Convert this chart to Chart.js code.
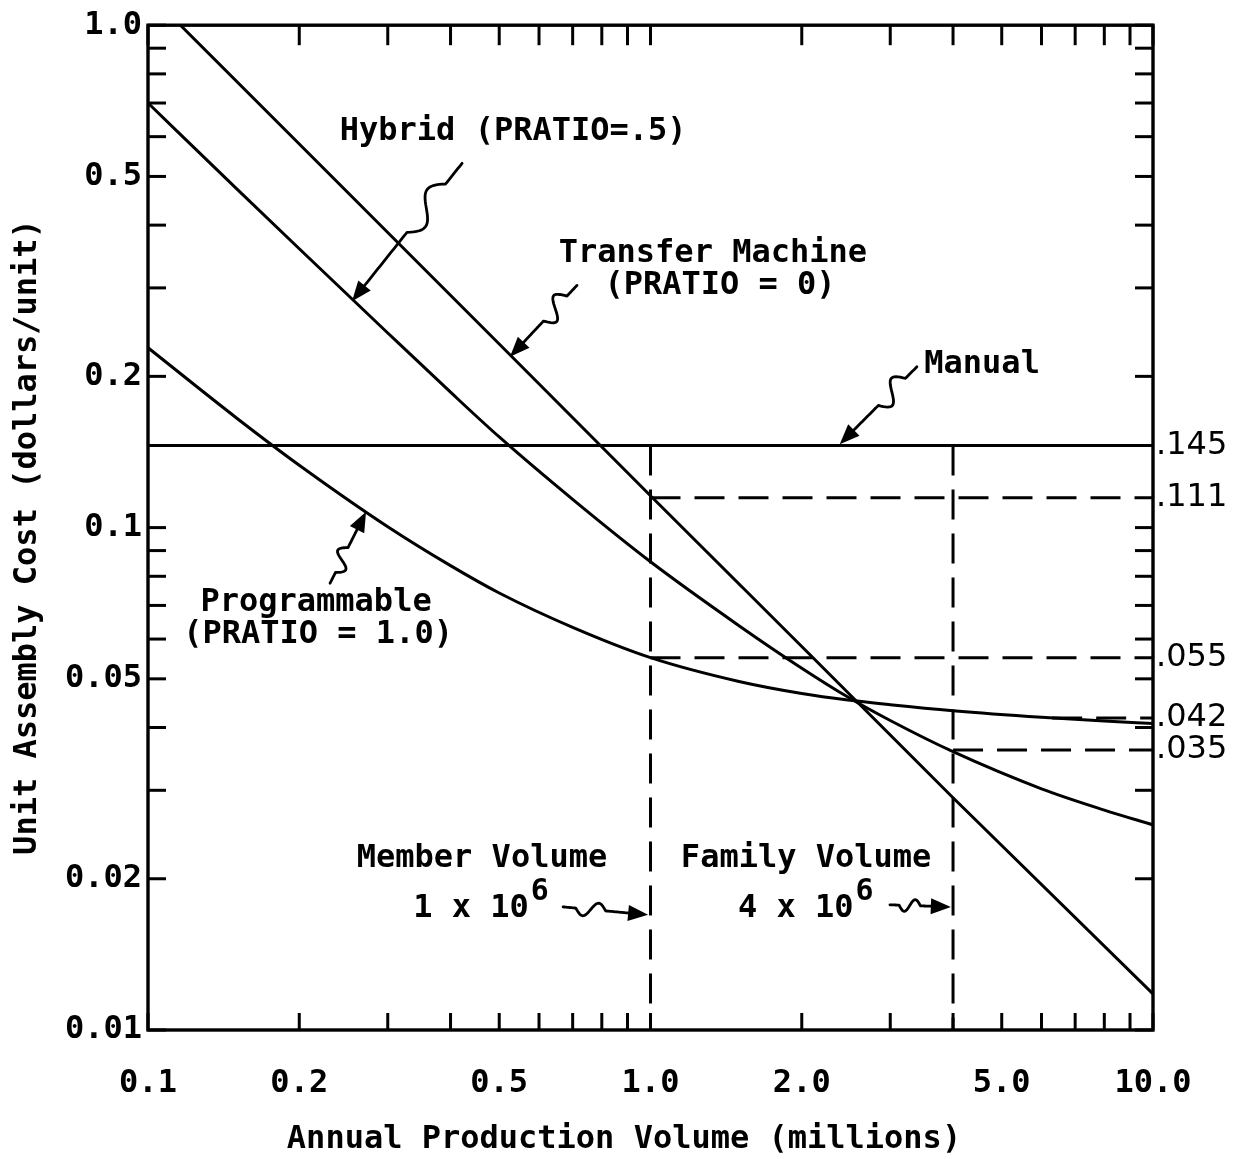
<!DOCTYPE html>
<html><head><meta charset="utf-8">
<script src="https://cdn.jsdelivr.net/npm/chart.js@4.4.0/dist/chart.umd.min.js"></script>
<style>html,body{margin:0;padding:0;background:#fff;}canvas{display:block;}</style>
</head><body>
<canvas id="c" width="1243" height="1159"></canvas>
<script>
// ---------- data ----------
const xTickValues = [0.1,0.2,0.3,0.4,0.5,0.6,0.7,0.8,0.9,1,2,3,4,5,6,7,8,9,10];
const xLabelValues = [0.1,0.2,0.5,1,2,5,10];
const xLabelTexts = ['0.1','0.2','0.5','1.0','2.0','5.0','10.0'];
const yTickValues = [0.01,0.02,0.03,0.04,0.05,0.06,0.07,0.08,0.09,0.1,0.2,0.3,0.4,0.5,0.6,0.7,0.8,0.9,1];
const yLabelValues = [1,0.5,0.2,0.1,0.05,0.02,0.01];
const yLabelTexts = ['1.0','0.5','0.2','0.1','0.05','0.02','0.01'];

const transferX = [0.116, 0.2, 0.5, 1.0, 2.0, 4.0, 10];
const transferY = [1.0, 0.58, 0.232, 0.1157, 0.058, 0.029, 0.0118];

const hybridX = [0.1, 0.15, 0.2, 0.3, 0.4, 0.5, 0.7, 1.0, 1.5, 2.0, 2.47, 3.0, 4.0, 6.0, 8.0, 10];
const hybridY = [0.70, 0.473, 0.359, 0.244, 0.186, 0.1515, 0.1138, 0.0855, 0.0638, 0.0525, 0.046, 0.0413, 0.0358, 0.0302, 0.0274, 0.0256];

const progX = [0.1, 0.15, 0.2, 0.3, 0.4, 0.5, 0.7, 1.0, 1.5, 2.0, 2.47, 3.0, 4.0, 6.0, 8.0, 10];
const progY = [0.228, 0.1653, 0.1331, 0.1004, 0.0840, 0.0741, 0.0633, 0.0551, 0.0494, 0.04675, 0.04537, 0.04442, 0.04322, 0.04193, 0.0412, 0.04075];

const manualX = [0.1, 10];
const manualY = [0.1457, 0.1457];

const memberVolume = 1;      // millions
const familyVolume = 4;      // millions
const refLineLevels = [0.1457, 0.1146, 0.0551, 0.0418, 0.0361];
const refLabels = ['.145', '.111', '.055', '.042', '.035'];
const refStartX = [null, 1, 1, 6.3, 4];

// ---------- helpers ----------
const pts = (xs, ys) => xs.map((v, i) => ({x: v, y: ys[i]}));
const FONT = "'DejaVu Sans Mono', monospace";
const solid = (label, data, smooth) => ({
  label, data, showLine: true, borderColor: '#000', borderWidth: 3,
  pointRadius: 0, fill: false,
  cubicInterpolationMode: smooth ? 'monotone' : 'default', tension: 0
});
const dashed = (label, data) => ({
  label, data, showLine: true, borderColor: '#000', borderWidth: 3,
  borderDash: [30, 14], pointRadius: 0, fill: false, tension: 0
});

const datasets = [
  solid('Transfer Machine', pts(transferX, transferY), false),
  solid('Hybrid', pts(hybridX, hybridY), true),
  solid('Programmable', pts(progX, progY), true),
  solid('Manual', pts(manualX, manualY), false),
  dashed('Member volume', [{x: memberVolume, y: refLineLevels[0]}, {x: memberVolume, y: 0.01}]),
  dashed('Family volume', [{x: familyVolume, y: refLineLevels[0]}, {x: familyVolume, y: 0.01}])
];
for (let i = 1; i < refLineLevels.length; i++) {
  datasets.push(dashed(refLabels[i], [{x: refStartX[i], y: refLineLevels[i]}, {x: 10, y: refLineLevels[i]}]));
}

// annotation texts (data coordinates)
const notes = [
  {t: 'Hybrid (PRATIO=.5)', x: 0.533, y: 0.614},
  {t: 'Transfer Machine', x: 1.331, y: 0.351},
  {t: '(PRATIO = 0)', x: 1.375, y: 0.3035},
  {t: 'Manual', x: 4.57, y: 0.211},
  {t: 'Programmable', x: 0.216, y: 0.0708},
  {t: '(PRATIO = 1.0)', x: 0.218, y: 0.0612},
  {t: 'Member Volume', x: 0.462, y: 0.0219},
  {t: 'Family Volume', x: 2.04, y: 0.0219}
];
const powerNotes = [
  {base: '1 x 10', exp: '6', x: 0.337, y: 0.0174},
  {base: '4 x 10', exp: '6', x: 1.493, y: 0.0174}
];
const leaders = [
  {from: [0.4217, 0.531], to: [0.2547, 0.2822], amp: 11},
  {from: [0.714, 0.3035], to: [0.5253, 0.2188], amp: 10},
  {from: [3.39, 0.209], to: [2.38, 0.1466], amp: 10},
  {from: [0.2303, 0.0775], to: [0.2716, 0.1075], amp: 8},
  {from: [0.670, 0.01758], to: [0.989, 0.01695], amp: 7},
  {from: [2.996, 0.01775], to: [3.96, 0.01758], amp: 6}
];

function line(ctx, x1, y1, x2, y2) { ctx.beginPath(); ctx.moveTo(x1, y1); ctx.lineTo(x2, y2); ctx.stroke(); }

function squiggle(ctx, p0, p1, amp) {
  const dx = p1[0] - p0[0], dy = p1[1] - p0[1];
  const L = Math.hypot(dx, dy), ux = dx / L, uy = dy / L, nx = -uy, ny = ux;
  ctx.beginPath();
  const N = 80;
  for (let i = 0; i <= N; i++) {
    const t = i / N;
    let off = 0;
    if (t > 0.15 && t < 0.5) off = amp * Math.sin(2 * Math.PI * (t - 0.15) / 0.35);
    const tt = Math.min(t, 1 - 14 / L);
    const px = p0[0] + dx * tt + nx * off, py = p0[1] + dy * tt + ny * off;
    if (i === 0) ctx.moveTo(px, py); else ctx.lineTo(px, py);
  }
  ctx.stroke();
  const hl = 20, hw = 8;
  const bx = p1[0] - ux * hl, by = p1[1] - uy * hl;
  ctx.beginPath();
  ctx.moveTo(p1[0], p1[1]);
  ctx.lineTo(bx + nx * hw, by + ny * hw);
  ctx.lineTo(bx - nx * hw, by - ny * hw);
  ctx.closePath();
  ctx.fill();
}

const paperPlugin = {
  id: 'paper',
  beforeDraw(chart) {
    const ctx = chart.ctx;
    ctx.save(); ctx.fillStyle = '#fff'; ctx.fillRect(0, 0, chart.width, chart.height); ctx.restore();
  },
  afterDraw(chart) {
    const {ctx, chartArea: a, scales: {x, y}} = chart;
    ctx.save();
    ctx.strokeStyle = '#000'; ctx.fillStyle = '#000';
    ctx.lineWidth = 3.4;
    ctx.strokeRect(a.left, a.top, a.right - a.left, a.bottom - a.top);
    ctx.lineWidth = 3;
    x.ticks.forEach(t => {
      const px = x.getPixelForValue(t.value);
      line(ctx, px, a.bottom, px, a.bottom - 17);
      line(ctx, px, a.top, px, a.top + 20);
    });
    y.ticks.forEach(t => {
      const py = y.getPixelForValue(t.value);
      line(ctx, a.left, py, a.left + 18, py);
      line(ctx, a.right, py, a.right - 18, py);
    });
    // reference values at right
    ctx.font = "32px 'DejaVu Sans', sans-serif";
    ctx.textAlign = 'left'; ctx.textBaseline = 'middle';
    refLineLevels.forEach((v, i) => ctx.fillText(refLabels[i], a.right + 3, y.getPixelForValue(v)));
    // notes
    ctx.font = 'bold 32px ' + FONT;
    ctx.textAlign = 'center'; ctx.textBaseline = 'middle';
    notes.forEach(n => ctx.fillText(n.t, x.getPixelForValue(n.x), y.getPixelForValue(n.y)));
    ctx.textAlign = 'left';
    powerNotes.forEach(n => {
      const px = x.getPixelForValue(n.x), py = y.getPixelForValue(n.y);
      ctx.font = 'bold 32px ' + FONT;
      ctx.fillText(n.base, px, py);
      const w = ctx.measureText(n.base).width;
      ctx.font = 'bold 30px ' + FONT;
      ctx.fillText(n.exp, px + w + 2, py - 17);
    });
    // leaders
    ctx.lineWidth = 2.8; ctx.lineJoin = 'round'; ctx.lineCap = 'round';
    leaders.forEach(l => {
      const p0 = [x.getPixelForValue(l.from[0]), y.getPixelForValue(l.from[1])];
      const p1 = [x.getPixelForValue(l.to[0]), y.getPixelForValue(l.to[1])];
      squiggle(ctx, p0, p1, l.amp);
    });
    // axis titles
    ctx.font = 'bold 32px ' + FONT;
    ctx.textAlign = 'center'; ctx.textBaseline = 'middle';
    ctx.fillText('Annual Production Volume (millions)', 624, 1140);
    ctx.translate(28, 537); ctx.rotate(-Math.PI / 2);
    ctx.fillText('Unit Assembly Cost (dollars/unit)', 0, 0);
    ctx.restore();
  }
};

new Chart(document.getElementById('c'), {
  type: 'scatter',
  data: {datasets},
  options: {
    responsive: false, animation: false, devicePixelRatio: 1,
    layout: {padding: {left: 0, top: 18, right: 90, bottom: 0}},
    plugins: {legend: {display: false}, tooltip: {enabled: false}},
    scales: {
      x: {
        type: 'logarithmic', position: 'bottom', min: 0.1, max: 10,
        afterBuildTicks: s => { s.ticks = xTickValues.map(v => ({value: v})); },
        afterFit: s => { s.height = 129; },
        grid: {display: false, drawTicks: false}, border: {display: false},
        ticks: {
          autoSkip: false, maxRotation: 0, minRotation: 0, padding: 34, color: '#000',
          font: {family: FONT, size: 32, weight: 'bold'},
          callback: v => { const i = xLabelValues.indexOf(v); return i >= 0 ? xLabelTexts[i] : ''; }
        }
      },
      y: {
        type: 'logarithmic', position: 'left', min: 0.01, max: 1,
        afterBuildTicks: s => { s.ticks = yTickValues.map(v => ({value: v})); },
        afterFit: s => { s.width = 148; },
        grid: {display: false, drawTicks: false}, border: {display: false},
        ticks: {
          autoSkip: false, padding: 6, color: '#000',
          font: {family: FONT, size: 32, weight: 'bold'},
          callback: v => { const i = yLabelValues.indexOf(v); return i >= 0 ? yLabelTexts[i] : ''; }
        }
      }
    }
  },
  plugins: [paperPlugin]
});
</script>
</body></html>
